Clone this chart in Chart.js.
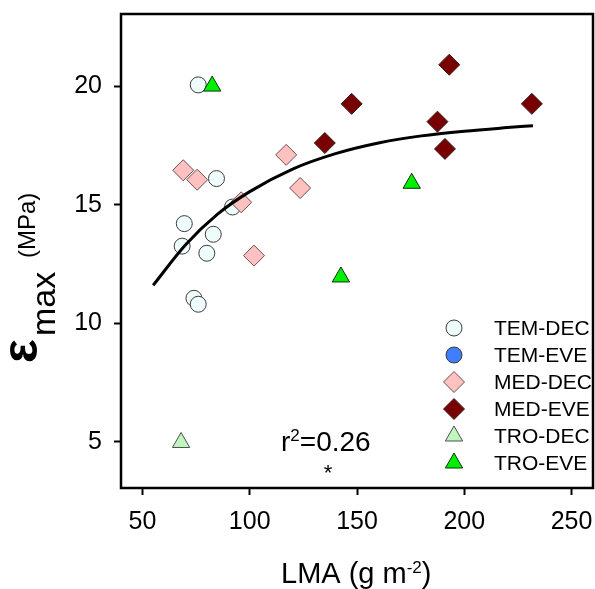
<!DOCTYPE html>
<html>
<head>
<meta charset="utf-8">
<script src="https://cdn.jsdelivr.net/npm/chart.js@4.4.0/dist/chart.umd.min.js"></script>
<style>
  html, body { margin: 0; padding: 0; background: #fff; overflow: hidden; }
  #wrap { width: 595px; height: 589px; }
  canvas { display: block; }
</style>
</head>
<body>
<div id="wrap"><canvas id="lmaChart" width="595" height="589"></canvas></div>
<script>
// LMA (g m-2) against maximum bulk modulus of elasticity, per biome and leaf habit
const temDecLma = [76, 84.5, 69.5, 83, 68.5, 80, 74, 76, 92];
const temDecEps = [20.05, 16.1, 14.2, 13.75, 13.25, 12.95, 11.05, 10.8, 14.9];
const temEveLma = [];
const temEveEps = [];
const medDecLma = [69, 75.5, 96, 117, 123.5, 102];
const medDecEps = [16.45, 16.05, 15.1, 17.1, 15.7, 12.85];
const medEveLma = [193, 147.5, 231.5, 187.5, 135, 191];
const medEveEps = [20.9, 19.25, 19.25, 18.5, 17.6, 17.35];
const troDecLma = [68];
const troDecEps = [4.97];
const troEveLma = [82.5, 175.5, 142.5];
const troEveEps = [20.0, 15.9, 11.95];

// fitted curve (r2 = 0.26)
const fitLma = [55, 70, 85, 100, 120, 140, 160, 180, 200, 220, 232];
const fitEps = [11.6, 13.3, 14.6, 15.55, 16.5, 17.15, 17.6, 17.9, 18.1, 18.25, 18.33];

const xTicks = [50, 100, 150, 200, 250];
const yTicks = [5, 10, 15, 20];

const FONT = "'Liberation Sans', Arial, sans-serif";

function pts(xs, ys) {
    return xs.map((x, i) => ({ x: x, y: ys[i] }));
}

function group(label, xs, ys, style, fill, edge, radius, order) {
    return {
        type: 'scatter',
        label: label,
        data: pts(xs, ys),
        pointStyle: style,
        pointRadius: radius,
        pointHoverRadius: radius,
        backgroundColor: fill,
        borderColor: edge,
        borderWidth: 1,
        order: order,
    };
}

const groups = [
    group('TEM-DEC', temDecLma, temDecEps, 'circle', '#eefcfc', '#3a3a3a', 8, 6),
    group('TEM-EVE', temEveLma, temEveEps, 'circle', '#3f7fff', '#3a3a3a', 8, 5),
    group('MED-DEC', medDecLma, medDecEps, 'rectRot', '#ffc0c0', '#6a5050', 10.5, 4),
    group('MED-EVE', medEveLma, medEveEps, 'rectRot', '#780000', '#3a2020', 10.5, 3),
    group('TRO-DEC', troDecLma, troDecEps, 'triangle', '#c0f5c0', '#505050', 10, 2),
    group('TRO-EVE', troEveLma, troEveEps, 'triangle', '#00f000', '#103010', 10, 1),
];

// keep the plot box fixed: no extra room for first/last tick labels
function fixBox(s) {
    s.paddingLeft = 0;
    s.paddingRight = 0;
    s.paddingTop = 0;
    s.paddingBottom = 0;
}

// frame, legend and free text drawn on top of the chart
const decorations = {
    id: 'decorations',
    afterDraw(chart) {
        const ctx = chart.ctx;
        const a = chart.chartArea;
        ctx.save();

        // plot frame
        ctx.strokeStyle = '#000';
        ctx.lineWidth = 2.5;
        ctx.strokeRect(a.left, a.top, a.right - a.left, a.bottom - a.top);

        // legend
        ctx.font = '21px ' + FONT;
        ctx.textBaseline = 'middle';
        ctx.textAlign = 'left';
        groups.forEach((g, i) => {
            const y = 328 + i * 27;
            ctx.fillStyle = g.backgroundColor;
            ctx.strokeStyle = g.borderColor;
            ctx.lineWidth = 1;
            Chart.helpers.drawPoint(ctx, {
                pointStyle: g.pointStyle, radius: g.pointRadius, rotation: 0, borderWidth: 1,
            }, 454, y);
            ctx.fillStyle = '#000';
            ctx.fillText(g.label, 494, y + 1);
        });

        // r2 annotation
        ctx.textBaseline = 'alphabetic';
        let x = 281;
        ctx.font = '28px ' + FONT;
        ctx.fillText('r', x, 451);
        x += ctx.measureText('r').width;
        ctx.font = '17px ' + FONT;
        ctx.fillText('2', x, 441);
        x += ctx.measureText('2').width;
        ctx.font = '28px ' + FONT;
        ctx.fillText('=0.26', x, 451);
        ctx.font = '22px ' + FONT;
        ctx.textAlign = 'center';
        ctx.fillText('*', 328, 480);

        // x axis title
        ctx.textAlign = 'left';
        x = 281;
        ctx.font = '29px ' + FONT;
        ctx.fillText('LMA (g m', x, 583);
        x += ctx.measureText('LMA (g m').width;
        ctx.font = '17px ' + FONT;
        ctx.fillText('-2', x, 573);
        x += ctx.measureText('-2').width;
        ctx.font = '29px ' + FONT;
        ctx.fillText(')', x, 583);

        // y axis title, rotated
        ctx.rotate(-Math.PI / 2);
        ctx.font = 'bold 50px ' + FONT;
        ctx.fillText('\u03b5', -363, 37);
        ctx.font = '34px ' + FONT;
        ctx.fillText('max', -336, 55);
        ctx.font = '24px ' + FONT;
        ctx.fillText('(MPa)', -258, 35);

        ctx.restore();
    },
};

new Chart(document.getElementById('lmaChart'), {
    data: {
        datasets: [
            {
                type: 'line',
                label: 'fit',
                data: pts(fitLma, fitEps),
                borderColor: '#000',
                borderWidth: 3,
                pointRadius: 0,
                fill: false,
                tension: 0.4,
                cubicInterpolationMode: 'monotone',
                order: 0,
            },
            ...groups,
        ],
    },
    options: {
        responsive: false,
        animation: false,
        events: [],
        layout: { autoPadding: false, padding: { top: 14, right: 2, left: 0, bottom: 0 } },
        plugins: {
            legend: { display: false },
            tooltip: { enabled: false },
        },
        scales: {
            x: {
                type: 'linear',
                min: 40,
                max: 260,
                afterBuildTicks: (s) => { s.ticks = xTicks.map(v => ({ value: v })); },
                afterFit: (s) => { s.height = 101; fixBox(s); },
                border: { display: false },
                grid: { drawOnChartArea: false, drawTicks: true, tickLength: 7, tickWidth: 2, tickColor: '#000' },
                ticks: { color: '#000', padding: 12, maxRotation: 0, font: { family: FONT, size: 25 } },
            },
            y: {
                type: 'linear',
                min: 3.05,
                max: 23.04,
                afterBuildTicks: (s) => { s.ticks = yTicks.map(v => ({ value: v })); },
                afterFit: (s) => { s.width = 121; fixBox(s); },
                border: { display: false },
                grid: { drawOnChartArea: false, drawTicks: true, tickLength: 7, tickWidth: 2, tickColor: '#000' },
                ticks: { color: '#000', padding: 12, font: { family: FONT, size: 25 } },
            },
        },
    },
    plugins: [decorations],
});
</script>
</body>
</html>
